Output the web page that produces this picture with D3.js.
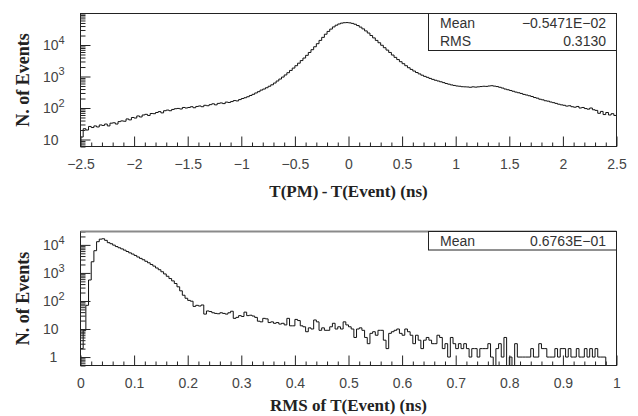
<!DOCTYPE html>
<html><head><meta charset="utf-8">
<script src="https://cdn.jsdelivr.net/npm/d3@7"></script>
<style>body{margin:0;background:#fff}svg{display:block}</style>
</head><body>
<svg id="c" width="638" height="416"></svg>
<script>
// ---------- data ----------
const topXTicks = [-2.5,-2,-1.5,-1,-0.5,0,0.5,1,1.5,2,2.5];
const topXLabels = ["\u22122.5","\u22122","\u22121.5","\u22121","\u22120.5","0","0.5","1","1.5","2","2.5"];
const topYTicks = [10,100,1000,10000];
const botXTicks = [0,0.1,0.2,0.3,0.4,0.5,0.6,0.7,0.8,0.9,1];
const botXLabels = ["0","0.1","0.2","0.3","0.4","0.5","0.6","0.7","0.8","0.9","1"];
const botYTicks = [1,10,100,1000,10000];

const topBinStart = -2.5, topBinWidth = 0.025;
const topCounts = [
 12,22,20,26, 24,27,25,29, 28,31,27,33, 34,31,37,39, 38,45,42,50,
 48,56,52,60, 63,58,67,66, 72,77,70,82, 86,82,90,95, 97,93,104,100,
 104,110,102,112, 116,110,122,118, 128,136,126,140, 145,138,154,150, 160,172,168,185,
 200,212,228,250, 272,300,330,370, 400,440,490,545, 620,720,830,960, 1120,1320,1560,1850,
 2200,2650,3200,3850, 4700,5800,7100,8800, 11000,14000,17500,22000, 27000,32000,37500,42500, 46500,49500,51000,51500,
 50500,48500,45500,41500, 37000,32500,28000,24000, 20000,16800,14000,11800, 9800,8200,6900,5800, 4800,4050,3450,2950,
 2550,2200,1900,1680, 1490,1340,1210,1100, 1010,940,870,810, 760,720,680,640, 600,570,540,520,
 500,490,475,470, 465,455,470,460, 470,480,490,485, 500,510,495,480, 455,430,400,380,
 360,340,320,305, 290,270,258,245, 232,215,205,190, 182,170,165,155, 148,140,132,126,
 122,115,118,110, 106,112,100,104, 96,92,100,88, 84,68,78,62, 72,60,66,58
];

const botBinStart = 0, botBinWidth = 0.005;
const botCounts = [
 2,9,70,560,2500,6200,13000,16000,16500,14500,
 12000,11000,9800,8700,7900,7200,6500,5800,5200,4700,
 4200,3700,3300,2950,2600,2300,2000,1750,1500,1300,
 1100,920,760,630,520,420,320,230,160,125,
 105,98,64,70,66,72,34,44,42,38,
 36,35,38,36,34,38,43,24,26,30,
 28,40,30,31,29,26,19,18,24,23,
 17,18,16,17,15,16,14,24,13,13,
 22,20,13,12,8,11,10,21,18,9,
 11,9,9,12,16,10,12,10,18,14,
 12,10,5,10,11,9,5,3,7,8,
 6,9,9,4,2,7,8,9,10,7,
 6,10,8,6,3,6,4,2,4,5,
 4,3,3,6,5,2,3,1,5,3,
 2,3,2,3,2,1,2,2,1,2,
 2,2,3,1,0,2,3,1,5,0,
 1,0,3,1,1,1,1,1,2,1,
 1,3,2,2,1,1,1,2,1,2,
 2,1,2,1,1,2,1,1,2,1,
 2,1,2,1,1,1,0,0,0,0
];

const topStats = [["Mean","\u22120.5471E\u221202"],["RMS","0.3130"]];
const botStats = [["Mean","0.6763E\u221201"]];
const topXTitle = "T(PM)\u2009-\u2009T(Event) (ns)";
const botXTitle = "RMS of T(Event) (ns)";
const yTitle = "N. of Events";

// ---------- drawing ----------
const svg = d3.select("#c");
const L = 80.5, R = 616.5;
const sans = "'Liberation Sans', Arial, Helvetica, sans-serif";
const serif = "'Liberation Serif', 'Times New Roman', serif";

function panel(cfg){
  const x = d3.scaleLinear().domain(cfg.xDomain).range([L, R]);
  const y = d3.scaleLog().domain(cfg.yDomain).range([cfg.bottom, cfg.top]).clamp(true);
  const g = svg.append("g");

  // histogram
  const n = cfg.counts.length;
  const pts = cfg.counts.map((c,i)=>[cfg.binStart + i*cfg.binWidth, c]);
  pts.push([cfg.binStart + n*cfg.binWidth, cfg.counts[n-1]]);
  const line = d3.line()
    .x(d=>x(d[0]))
    .y(d=> d[1] > 0 ? y(d[1]) : cfg.bottom)
    .curve(d3.curveStepAfter);
  g.append("path").attr("d", line(pts))
    .attr("fill","none").attr("stroke","#111").attr("stroke-width",1);

  // x axis: major + minor ticks pointing inward
  const xMaj = d3.axisBottom(x).tickValues(cfg.xTicks).tickSize(-10).tickPadding(13)
    .tickFormat((d,i)=>cfg.xLabels[i]);
  const xMin = d3.axisBottom(x).tickValues(cfg.xMinor).tickSize(-4).tickFormat("");
  const gx1 = g.append("g").attr("transform",`translate(0,${cfg.bottom})`).call(xMin);
  const gx2 = g.append("g").attr("transform",`translate(0,${cfg.bottom})`).call(xMaj);
  [gx1,gx2].forEach(a=>{ a.select(".domain").remove(); a.selectAll("line").attr("stroke","#222"); });
  gx2.selectAll("text").attr("font-family",sans).attr("font-size",14).attr("fill","#444");

  // y axis
  const minors = y.ticks().filter(v=>!cfg.yTicks.includes(v));
  const yMaj = d3.axisLeft(y).tickValues(cfg.yTicks).tickSize(-10).tickFormat("");
  const yMin = d3.axisLeft(y).tickValues(minors).tickSize(-5).tickFormat("");
  const gy1 = g.append("g").attr("transform",`translate(${L},0)`).call(yMin);
  const gy2 = g.append("g").attr("transform",`translate(${L},0)`).call(yMaj);
  [gy1,gy2].forEach(a=>{ a.select(".domain").remove(); a.selectAll("line").attr("stroke","#222"); });

  cfg.yTicks.forEach(v=>{
    const e = Math.round(Math.log10(v));
    const t = g.append("text").attr("y", y(v)).attr("dy","0.36em")
      .attr("font-family",sans).attr("font-size",14).attr("fill","#444");
    if (e === 0) { t.attr("x",53.5).attr("text-anchor","middle").text("1"); }
    else {
      t.attr("x",43).attr("text-anchor","start").text("10");
      if (e > 1) t.append("tspan").attr("dy","-0.55em").attr("font-size",11).text(String(e));
    }
  });

  // frame
  g.append("rect").attr("x",L).attr("y",cfg.top).attr("width",R-L).attr("height",cfg.bottom-cfg.top)
    .attr("fill","none").attr("stroke","#222").attr("stroke-width",1);
  if (cfg.grayTop) g.append("line").attr("x1",L).attr("x2",R).attr("y1",cfg.top).attr("y2",cfg.top)
    .attr("stroke","#8a8a8a").attr("stroke-width",2.2);

  // stats box
  const bh = cfg.stats.length * 18.5;
  g.append("rect").attr("x",428.5).attr("y",cfg.top).attr("width",R-428.5).attr("height",bh)
    .attr("fill","#fff").attr("stroke","#222").attr("stroke-width",1);
  cfg.stats.forEach((s,i)=>{
    const by = cfg.top + 14 + i*18;
    g.append("text").attr("x",440).attr("y",by).attr("font-family",sans).attr("font-size",14)
      .attr("fill","#333").text(s[0]);
    g.append("text").attr("x",606).attr("y",by).attr("text-anchor","end").attr("font-family",sans)
      .attr("font-size",14).attr("fill","#333").text(s[1]);
  });

  // titles
  g.append("text").attr("x",(L+R)/2).attr("y",cfg.titleY).attr("text-anchor","middle")
    .attr("font-family",serif).attr("font-weight","bold").attr("font-size",17).attr("fill","#222")
    .text(cfg.xTitle);
  g.append("text").attr("transform",`translate(29,${(cfg.top+cfg.bottom)/2}) rotate(-90)`)
    .attr("text-anchor","middle").attr("font-family",serif).attr("font-weight","bold")
    .attr("font-size",18).attr("fill","#222").text(yTitle);
}

panel({
  xDomain:[-2.5,2.5], yDomain:[6,1e5], top:13.5, bottom:146.5,
  counts:topCounts, binStart:topBinStart, binWidth:topBinWidth,
  xTicks:topXTicks, xLabels:topXLabels,
  xMinor:d3.range(-24,25).map(k=>k/10).filter(v=>Math.abs(v*2-Math.round(v*2))>1e-6),
  yTicks:topYTicks, stats:topStats, xTitle:topXTitle, titleY:197, grayTop:false
});
panel({
  xDomain:[0,1], yDomain:[0.5,3e4], top:231.5, bottom:365.5,
  counts:botCounts, binStart:botBinStart, binWidth:botBinWidth,
  xTicks:botXTicks, xLabels:botXLabels,
  xMinor:d3.range(1,50).map(k=>k/50).filter(v=>Math.abs(v*10-Math.round(v*10))>1e-6),
  yTicks:botYTicks, stats:botStats, xTitle:botXTitle, titleY:411, grayTop:true
});
</script>
</body></html>
